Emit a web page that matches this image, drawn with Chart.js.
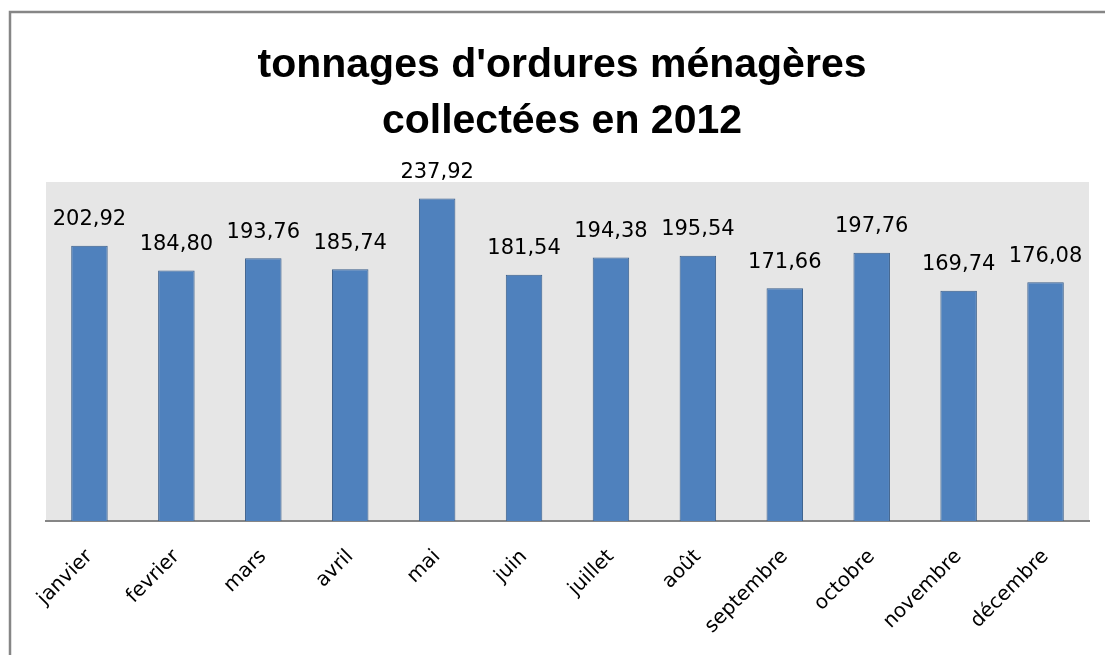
<!DOCTYPE html>
<html lang="fr">
<head>
<meta charset="UTF-8">
<title>tonnages d'ordures ménagères</title>
<script src="https://cdn.jsdelivr.net/npm/chart.js"></script>
<style>
  html, body { margin: 0; padding: 0; background: #fff; }
  .chart-box { width: 1105px; height: 655px; }
</style>
</head>
<body>
<div class="chart-box">
  <canvas id="om-chart" width="1105" height="655"></canvas>
</div>
<script>
// Data
const months = ['janvier', 'fevrier', 'mars', 'avril', 'mai', 'juin', 'juillet', 'août', 'septembre', 'octobre', 'novembre', 'décembre'];
const tonnages = [202.92, 184.80, 193.76, 185.74, 237.92, 181.54, 194.38, 195.54, 171.66, 197.76, 169.74, 176.08];
const titleLines = ["tonnages d'ordures ménagères", 'collectées en 2012'];

const TITLE_FONT = "'Liberation Sans', 'DejaVu Sans', sans-serif";
const FONT = "'DejaVu Sans', 'Liberation Sans', sans-serif";

// background of plot area, outer frame, title and value labels
const decor = {
  id: 'decor',
  beforeDraw(chart) {
    const { ctx, chartArea: a } = chart;
    ctx.save();
    ctx.fillStyle = '#e6e6e6';
    ctx.fillRect(a.left, a.top, a.right - a.left, a.bottom - a.top);
    // frame (right/bottom fall outside the picture)
    ctx.strokeStyle = '#868686';
    ctx.lineWidth = 2.5;
    ctx.beginPath();
    ctx.moveTo(10, 660);
    ctx.lineTo(10, 12);
    ctx.lineTo(1110, 12);
    ctx.stroke();
    // title
    ctx.fillStyle = '#000';
    ctx.font = 'bold 41px ' + TITLE_FONT;
    ctx.textAlign = 'center';
    ctx.textBaseline = 'middle';
    ctx.fillText(titleLines[0], 562, 66);
    ctx.fillText(titleLines[1], 562, 122);
    ctx.restore();
  },
  afterDatasetsDraw(chart) {
    const { ctx } = chart;
    const meta = chart.getDatasetMeta(0);
    ctx.save();
    ctx.fillStyle = '#000';
    ctx.font = '21px ' + FONT;
    ctx.textAlign = 'center';
    ctx.textBaseline = 'middle';
    meta.data.forEach((bar, i) => {
      const txt = tonnages[i].toFixed(2).replace('.', ',');
      ctx.fillText(txt, bar.x, bar.y - 26);
    });
    ctx.restore();
  }
};

const ctx = document.getElementById('om-chart').getContext('2d');
new Chart(ctx, {
  type: 'bar',
  data: {
    labels: months,
    datasets: [{
      data: tonnages,
      backgroundColor: '#4f81bd',
      borderColor: '#385d8a',
      borderWidth: 1,
      categoryPercentage: 1,
      barPercentage: 0.42
    }]
  },
  options: {
    responsive: false,
    animation: false,
    layout: { padding: { top: 182, left: 46, right: 16, bottom: 0 } },
    plugins: {
      legend: { display: false },
      title: { display: false },
      tooltip: { enabled: false }
    },
    scales: {
      x: {
        grid: { display: false },
        border: { display: true, color: '#868686', width: 2 },
        ticks: {
          color: '#000',
          font: { family: FONT, size: 20 },
          minRotation: 45,
          maxRotation: 45,
          padding: 16
        },
        afterFit(scale) { scale.height = 134; }
      },
      y: {
        display: false,
        min: 0,
        max: 250
      }
    }
  },
  plugins: [decor]
});
</script>
</body>
</html>
